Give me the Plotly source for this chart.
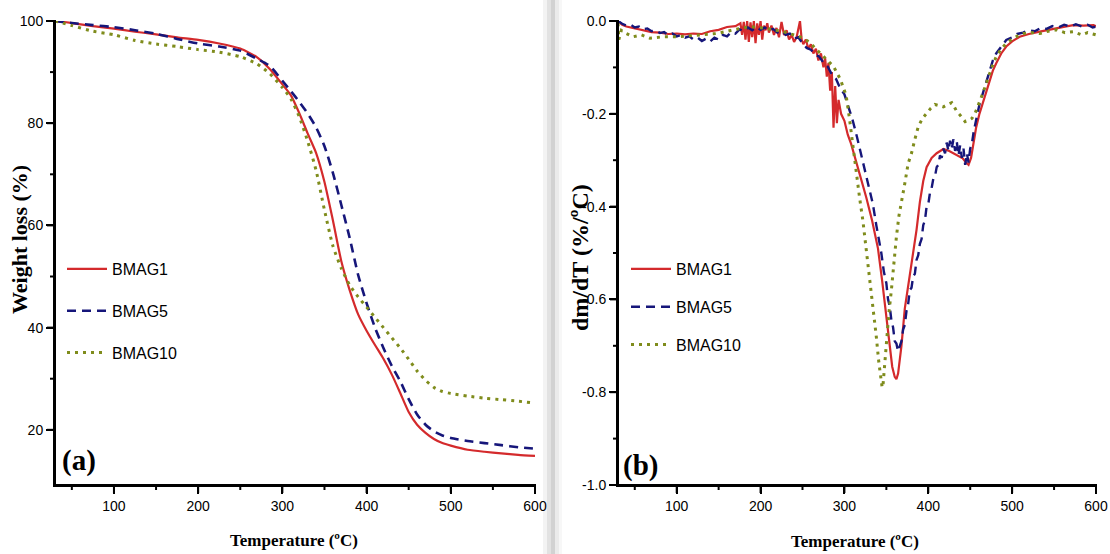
import plotly.graph_objects as go

# ---------------- data: TGA (panel a) ----------------
tga_temp = [30, 50, 75, 100, 125, 150, 175, 200, 225, 250, 270, 285, 300, 310, 320, 330,
            340, 350, 360, 370, 380, 390, 400, 410, 420, 430, 440, 450, 460, 470, 480,
            490, 500, 520, 540, 560, 580, 600]
tga_bmag1 = [100, 99.6, 99.0, 98.5, 97.9, 97.4, 96.8, 96.3, 95.6, 94.6, 92.9, 90.6, 87.6, 85.5,
             82.0, 78.0, 74.2, 68.5, 61.0, 53.0, 47.3, 42.6, 39.4, 36.6, 33.9, 30.8, 27.2,
             23.5, 21.0, 19.4, 18.2, 17.4, 16.9, 16.1, 15.7, 15.4, 15.1, 14.9]
tga_bmag5 = [100, 99.6, 99.2, 98.8, 98.2, 97.5, 96.5, 95.6, 95.0, 94.2, 92.6, 91.2, 88.3, 86.3,
             84.2, 81.9, 79.2, 75.5, 70.3, 64.0, 57.5, 50.3, 44.8, 40.0, 36.0, 32.5, 29.5,
             26.0, 23.0, 21.0, 19.7, 18.9, 18.4, 17.8, 17.4, 17.0, 16.6, 16.3]
tga_bmag10 = [100, 99.1, 98.0, 97.3, 96.2, 95.5, 95.0, 94.4, 93.9, 93.0, 91.6, 89.7, 87.0, 84.8,
              81.3, 76.5, 70.8, 63.0, 56.0, 51.6, 48.3, 46.0, 44.0, 42.0, 40.0, 38.0, 36.0,
              33.8, 31.5, 29.7, 28.3, 27.5, 27.1, 26.6, 26.2, 25.9, 25.6, 25.2]

# ---------------- data: DTG (panel b) ----------------
dtg1_temp = [30, 35, 40, 50, 60, 70, 80, 90, 100, 110, 120, 130, 140, 150, 160, 170,
             176, 178, 180, 182, 184, 186, 188, 190, 192, 194, 196, 198, 200, 202, 204, 206,
             208, 210, 213, 216, 219, 222, 225, 228, 231, 234, 237, 240, 243, 246, 247, 249,
             251, 254, 257, 260, 263, 266, 269, 272, 275, 277, 279, 281, 283, 285, 287, 289,
             291, 293, 296, 300, 304, 308, 312, 316, 320, 326, 333, 340, 345, 350, 354, 357,
             360, 362, 364, 366, 368, 372, 377, 382, 386, 390, 394, 398, 404, 410, 418, 425,
             430, 436, 441, 445, 448, 451, 454, 457, 461, 465, 469, 473, 477, 481, 487, 493,
             500, 509, 520, 533, 545, 553, 563, 573, 585, 597, 600]
dtg1_val = [0.0, -0.008, -0.012, -0.016, -0.019, -0.024, -0.025, -0.028, -0.027, -0.029, -0.027,
            -0.028, -0.022, -0.019, -0.013, -0.011,
            -0.005, -0.03, -0.002, -0.04, 0.0, -0.045, -0.003, -0.035, 0.0, -0.048, -0.005, -0.03,
            0.0, -0.04, -0.01, -0.02, -0.005, -0.025, -0.01, -0.03, -0.015, -0.035, -0.002, -0.03,
            -0.02, -0.04, -0.03, -0.045, -0.035, -0.01, 0.0, -0.04, -0.05, -0.04, -0.06, -0.05,
            -0.07, -0.06, -0.085, -0.07, -0.10, -0.08, -0.12, -0.09, -0.15, -0.11, -0.23, -0.14,
            -0.22, -0.17, -0.20, -0.215, -0.245, -0.265, -0.29, -0.315, -0.34, -0.38, -0.43,
            -0.49, -0.56, -0.64, -0.70, -0.745, -0.767, -0.772, -0.76, -0.73, -0.70, -0.62, -0.56,
            -0.505, -0.45, -0.39, -0.345, -0.315, -0.295, -0.285, -0.276, -0.28, -0.285, -0.29,
            -0.296, -0.305, -0.31, -0.295, -0.265, -0.23, -0.20, -0.177, -0.15, -0.127, -0.107,
            -0.091, -0.07, -0.055, -0.044, -0.034, -0.028, -0.023, -0.018, -0.016, -0.012,
            -0.009, -0.010, -0.009, -0.011]

dtg5_temp = [30, 35, 40, 45, 50, 55, 60, 65, 70, 75, 80, 85, 90, 95, 100, 105, 110, 115, 120,
             125, 130, 135, 140, 145, 150, 155, 160, 165, 170, 175, 180, 185, 190, 195, 200,
             205, 210, 215, 220, 225, 230, 235, 240, 245, 250, 255, 260, 265, 270, 275, 280,
             285, 290, 295, 300, 305, 310, 315, 320, 325, 330, 334, 338, 341, 344, 347, 350,
             352, 354, 356, 358, 360, 362, 364, 366, 368, 370, 372, 374, 376, 378, 380, 382,
             384, 386, 388, 390, 392, 394, 396, 398, 400, 402, 404, 406, 408, 410, 412, 414,
             416, 418, 420, 422, 424, 426, 428, 430, 432, 434, 436, 438, 440, 442, 444, 446,
             448, 450, 452, 454, 456, 458, 461, 465, 469, 473, 477, 481, 487, 493, 500, 506,
             513, 520, 527, 534, 541, 548, 555, 562, 569, 576, 583, 590, 596, 600]
dtg5_val = [0.0, -0.006, -0.01, -0.008, -0.014, -0.012, -0.018, -0.016, -0.022, -0.02, -0.026,
            -0.024, -0.03, -0.027, -0.033, -0.03, -0.036, -0.033, -0.04, -0.036, -0.043, -0.038,
            -0.044, -0.036, -0.04, -0.03, -0.033, -0.024, -0.027, -0.018, -0.022, -0.014, -0.02,
            -0.013, -0.019, -0.014, -0.021, -0.017, -0.025, -0.021, -0.03, -0.027, -0.038,
            -0.035, -0.048, -0.058, -0.062, -0.072, -0.077, -0.09, -0.098, -0.115, -0.125,
            -0.145, -0.158, -0.185, -0.215, -0.25, -0.29, -0.33, -0.365, -0.395, -0.44, -0.47,
            -0.50, -0.54, -0.565, -0.60, -0.615, -0.645, -0.66, -0.69, -0.695, -0.712, -0.70,
            -0.69, -0.665, -0.655, -0.625, -0.61, -0.58, -0.575, -0.55, -0.545, -0.515, -0.505,
            -0.48, -0.47, -0.44, -0.43, -0.40, -0.395, -0.37, -0.36, -0.34, -0.335, -0.315,
            -0.31, -0.29, -0.295, -0.275, -0.285, -0.262, -0.28, -0.258, -0.275, -0.255, -0.28,
            -0.26, -0.29, -0.268, -0.295, -0.275, -0.31, -0.285, -0.305, -0.275, -0.265, -0.24,
            -0.22, -0.205, -0.18, -0.155, -0.13, -0.105, -0.085, -0.07, -0.055, -0.041, -0.035,
            -0.028, -0.025, -0.02, -0.022, -0.015, -0.017, -0.011, -0.014, -0.008, -0.012,
            -0.007, -0.012, -0.008, -0.014, -0.012]

dtg10_temp = [30, 31, 34, 40, 48, 58, 68, 84, 100, 115, 128, 148, 168, 187, 207, 227, 247, 258,
              267, 277, 287, 295, 302, 306, 310, 314, 318, 322, 326, 329, 332, 335, 338, 341,
              343, 345, 346, 348, 350, 353, 356, 359, 362, 365, 368, 372, 376, 380, 384, 388,
              393, 398, 403, 408, 413, 418, 423, 428, 431, 434, 439, 444, 448, 452, 456, 459,
              462, 465, 469, 473, 477, 481, 487, 493, 503, 513, 523, 533, 543, 553, 563, 573,
              583, 590, 597, 600]
dtg10_val = [-0.005, -0.04, -0.02, -0.027, -0.034, -0.03, -0.037, -0.034, -0.034, -0.032, -0.03,
             -0.027, -0.019, -0.012, -0.016, -0.023, -0.034, -0.045, -0.062, -0.08, -0.098,
             -0.125, -0.16, -0.21, -0.27, -0.325, -0.38, -0.43, -0.49, -0.535, -0.58, -0.63,
             -0.68, -0.735, -0.765, -0.79, -0.785, -0.74, -0.68, -0.63, -0.58, -0.52, -0.465,
             -0.42, -0.386, -0.35, -0.307, -0.285, -0.255, -0.228, -0.21, -0.199, -0.188, -0.18,
             -0.183, -0.185, -0.18, -0.176, -0.185, -0.195, -0.205, -0.217, -0.214, -0.21,
             -0.198, -0.185, -0.17, -0.156, -0.135, -0.113, -0.094, -0.077, -0.06, -0.048,
             -0.035, -0.027, -0.025, -0.027, -0.022, -0.019, -0.025, -0.023, -0.03, -0.025,
             -0.028, -0.03]

series_names = ["BMAG1", "BMAG5", "BMAG10"]
x_ticks = [100, 200, 300, 400, 500, 600]
x_minor = [50, 150, 250, 350, 450, 550]
tga_ticks = [20, 40, 60, 80, 100]
tga_minor = [30, 50, 70, 90]
dtg_ticks = [0.0, -0.2, -0.4, -0.6, -0.8, -1.0]
dtg_ticklabels = ["0.0", "-0.2", "-0.4", "-0.6", "-0.8", "-1.0"]
dtg_minor = [-0.1, -0.3, -0.5, -0.7, -0.9]

# ---------------- styles ----------------
RED = "#d42a2c"
BLUE = "#16167a"
GREEN = "#7f8c1c"
styles = [dict(color=RED, width=2.2, dash="solid"),
          dict(color=BLUE, width=2.6, dash="9px,6px"),
          dict(color=GREEN, width=3, dash="3px,5px")]

W, H = 1110, 554
# plot-area geometry (pixels) and axis ranges
PLOT_TOP, PLOT_BOT = 21, 485
P1_L, P1_R = 55, 535
P2_L, P2_R = 618, 1096
X_RANGE = [30, 600]
TGA_RANGE = [9.2, 100]
DTG_RANGE = [-1.0, 0.0]

ML, MR, MT, MB = P1_L, W - P2_R, PLOT_TOP, H - PLOT_BOT
PW, PH = W - ML - MR, H - MT - MB

def px(x):
    return (x - ML) / PW
def py(y):
    return (PLOT_BOT - y) / PH

fig = go.Figure()

tga_vals = [tga_bmag1, tga_bmag5, tga_bmag10]
for i, name in enumerate(series_names):
    fig.add_trace(go.Scatter(x=tga_temp, y=tga_vals[i], mode="lines", name=name,
                             line=dict(shape="spline", smoothing=0.6, **styles[i]),
                             xaxis="x", yaxis="y", legend="legend",
                             legendgroup="a" + name))

dtg_t = [dtg1_temp, dtg5_temp, dtg10_temp]
dtg_v = [dtg1_val, dtg5_val, dtg10_val]
for i, name in enumerate(series_names):
    st = dict(styles[i])
    if i == 1:
        st["width"] = 2.4
    fig.add_trace(go.Scatter(x=dtg_t[i], y=dtg_v[i], mode="lines", name=name,
                             line=st, xaxis="x2", yaxis="y2", legend="legend2",
                             legendgroup="b" + name))

tickfont = dict(family="Liberation Sans, Arial, sans-serif", size=14, color="black")
common_axis = dict(showline=True, linecolor="black", linewidth=2, ticks="outside",
                   ticklen=7, tickwidth=2, tickcolor="black", showgrid=False,
                   zeroline=False, tickfont=tickfont)

fig.update_layout(
    template="none",
    width=W, height=H, margin=dict(l=ML, r=MR, t=MT, b=MB),
    paper_bgcolor="white", plot_bgcolor="white",
    xaxis=dict(domain=[px(P1_L), px(P1_R)], range=X_RANGE, tickmode="array",
               tickvals=x_ticks, anchor="y", **common_axis),
    yaxis=dict(domain=[0, 1], range=TGA_RANGE, tickmode="array", tickvals=tga_ticks,
               anchor="x", **common_axis),
    xaxis2=dict(domain=[px(P2_L), px(P2_R)], range=X_RANGE, tickmode="array",
                tickvals=x_ticks, anchor="y2", **common_axis),
    yaxis2=dict(domain=[0, 1], range=DTG_RANGE, tickmode="array", tickvals=dtg_ticks,
                ticktext=dtg_ticklabels, anchor="x2", **common_axis),
    legend=dict(x=px(62), y=py(252), xanchor="left", yanchor="top",
                bgcolor="rgba(0,0,0,0)", tracegroupgap=18, itemwidth=40,
                font=dict(family="Liberation Sans, Arial, sans-serif", size=16, color="black")),
    legend2=dict(x=px(626), y=py(252), xanchor="left", yanchor="top",
                 bgcolor="rgba(0,0,0,0)", tracegroupgap=14, itemwidth=40,
                 font=dict(family="Liberation Sans, Arial, sans-serif", size=16, color="black")),
    showlegend=True,
)

serif_b = dict(family="Liberation Serif, Times New Roman, serif", color="black")
ann = [
    dict(text="<b>Weight loss (%)</b>", x=px(20), y=py(240), textangle=-90,
         font=dict(size=22, **serif_b)),
    dict(text="<b>dm/dT (%/ºC)</b>", x=px(580), y=py(258), textangle=-90,
         font=dict(size=24, **serif_b)),
    dict(text="<b>Temperature (ºC)</b>", x=px(294), y=py(540),
         font=dict(size=17, **serif_b)),
    dict(text="<b>Temperature (ºC)</b>", x=px(855), y=py(541),
         font=dict(size=17, **serif_b)),
    dict(text="<b>(a)</b>", x=px(79), y=py(460), font=dict(size=29, **serif_b)),
    dict(text="<b>(b)</b>", x=px(640), y=py(465), font=dict(size=29, **serif_b)),
]
for a in ann:
    a.update(xref="paper", yref="paper", showarrow=False, xanchor="center", yanchor="middle")
fig.update_layout(annotations=ann)

shapes = []
# panel separator (shadow strip between the two images)
strip = [(543, 547, "#f3f3f3"), (547, 551, "#e2e2e2"), (551, 555, "#d2d2d2"),
         (555, 559, "#ebebeb"), (559, 562, "#f7f7f7")]
for x0, x1, c in strip:
    shapes.append(dict(type="rect", xref="paper", yref="paper", x0=px(x0), x1=px(x1),
                       y0=py(H), y1=py(0), fillcolor=c, line=dict(width=0), layer="below"))

# axis frame and tick marks as filled bars (same mapping as the axis domains/ranges)
def bar(x0, x1, y0, y1):
    return dict(type="rect", xref="paper", yref="paper", x0=px(x0), x1=px(x1),
                y0=py(y1), y1=py(y0), fillcolor="black", line=dict(width=0), layer="above")

def frame(left, right, yrange, xmaj, xmin, ymaj, ymin):
    def xpix(v):
        return left + (v - X_RANGE[0]) / (X_RANGE[1] - X_RANGE[0]) * (right - left)
    def ypix(v):
        return PLOT_BOT - (v - yrange[0]) / (yrange[1] - yrange[0]) * (PLOT_BOT - PLOT_TOP)
    out = [bar(left - 1, right + 1, PLOT_BOT - 1, PLOT_BOT + 1),
           bar(left - 1, left + 1, PLOT_TOP - 1, PLOT_BOT + 1)]
    for vals, ln in ((xmaj, 7), (xmin, 4)):
        for v in vals:
            xp = xpix(v)
            out.append(bar(xp - 1, xp + 1, PLOT_BOT, PLOT_BOT + 1 + ln))
    for vals, ln in ((ymaj, 7), (ymin, 4)):
        for v in vals:
            yp = ypix(v)
            out.append(bar(left - 1 - ln, left, yp - 1, yp + 1))
    return out

shapes += frame(P1_L, P1_R, TGA_RANGE, x_ticks, x_minor, tga_ticks, tga_minor)
shapes += frame(P2_L, P2_R, DTG_RANGE, x_ticks, x_minor, dtg_ticks, dtg_minor)
fig.update_layout(shapes=shapes)

fig.write_html("out.html")
